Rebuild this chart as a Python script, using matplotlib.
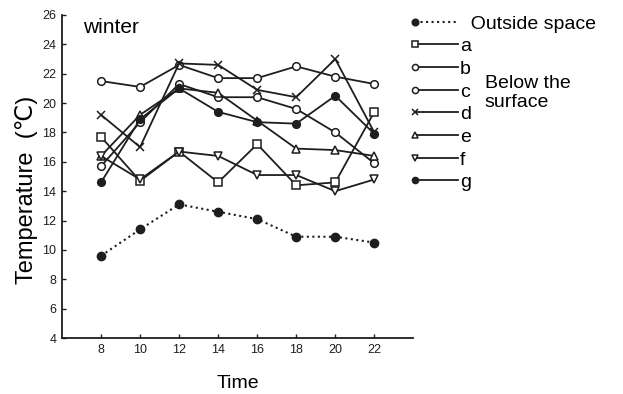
import numpy as np
import matplotlib
matplotlib.use("Agg")
import matplotlib.pyplot as plt
from matplotlib.lines import Line2D
from matplotlib.legend_handler import HandlerLine2D

plt.rcParams['font.family'] = ['Liberation Sans', 'DejaVu Sans']

# hours of the day
time = [8, 10, 12, 14, 16, 18, 20, 22]

# temperatures (deg C)
outside = [9.6, 11.4, 13.1, 12.6, 12.1, 10.9, 10.9, 10.5]
a = [17.7, 14.7, 16.7, 14.6, 17.2, 14.4, 14.6, 19.4]
b = [21.5, 21.1, 22.6, 21.7, 21.7, 22.5, 21.8, 21.3]
c = [15.7, 18.7, 21.3, 20.4, 20.4, 19.6, 18.0, 15.9]
d = [19.2, 17.0, 22.7, 22.6, 20.9, 20.4, 23.0, 18.0]
e = [16.4, 19.2, 21.0, 20.7, 18.8, 16.9, 16.8, 16.4]
f = [16.4, 14.8, 16.7, 16.4, 15.1, 15.1, 14.0, 14.8]
g = [14.6, 18.9, 21.0, 19.4, 18.7, 18.6, 20.5, 17.9]

series = [('a', a, 's'), ('b', b, 'o'), ('c', c, 'o'), ('d', d, 'x'),
          ('e', e, '^'), ('f', f, 'v'), ('g', g, 'o')]

ink = '#1e1e1e'

fig = plt.figure(figsize=(6.23, 3.94), dpi=100)
ax = fig.add_axes([0.0995, 0.142, 0.564, 0.82])

handles = []
h, = ax.plot(time, outside, linestyle=':', color=ink, lw=1.5, marker='o',
             ms=6, mfc=ink, mec=ink, label='  Outside space')
handles.append(h)
for name, vals, mk in series:
    fill = ink if name == 'g' else 'white'
    h, = ax.plot(time, vals, '-', color=ink, lw=1.3, marker=mk, ms=5.5,
                 mfc=fill, mec=ink, mew=1.1, label=name)
    handles.append(h)

ax.set_xlim(6, 24)
ax.set_ylim(4, 26)
ax.set_xticks(time)
ax.set_yticks(np.arange(4, 27, 2))
ax.tick_params(direction='in', length=3, width=1, labelsize=9, colors=ink, pad=4)
for s in ['top', 'right']:
    ax.spines[s].set_visible(False)
for s in ['left', 'bottom']:
    ax.spines[s].set_linewidth(1.3)
    ax.spines[s].set_color(ink)

ax.set_xlabel('Time', fontsize=14, labelpad=14)
ax.set_ylabel('Temperature  (\u2103)', fontsize=17)
ax.yaxis.set_label_coords(-0.068, 0.46)
ax.text(0.06, 0.99, 'winter', transform=ax.transAxes, fontsize=15, va='top')


class LeftMarker(HandlerLine2D):
    # single legend marker at the left end of the line
    def create_artists(self, *args, **kwargs):
        arts = super().create_artists(*args, **kwargs)
        for art in arts:
            art.set_markevery([0])
        return arts


fig.legend(handles=handles, loc='upper left', bbox_to_anchor=(0.666, 0.962),
           frameon=False, fontsize=14, handlelength=2.2, handletextpad=0.1,
           labelspacing=0.26, borderpad=0, borderaxespad=0, markerscale=0.8,
           handler_map={Line2D: LeftMarker(numpoints=1)})
fig.text(0.778, 0.81, 'Below the\nsurface', fontsize=14, va='top',
         linespacing=1.15)

fig.savefig('out.png', dpi=100)
